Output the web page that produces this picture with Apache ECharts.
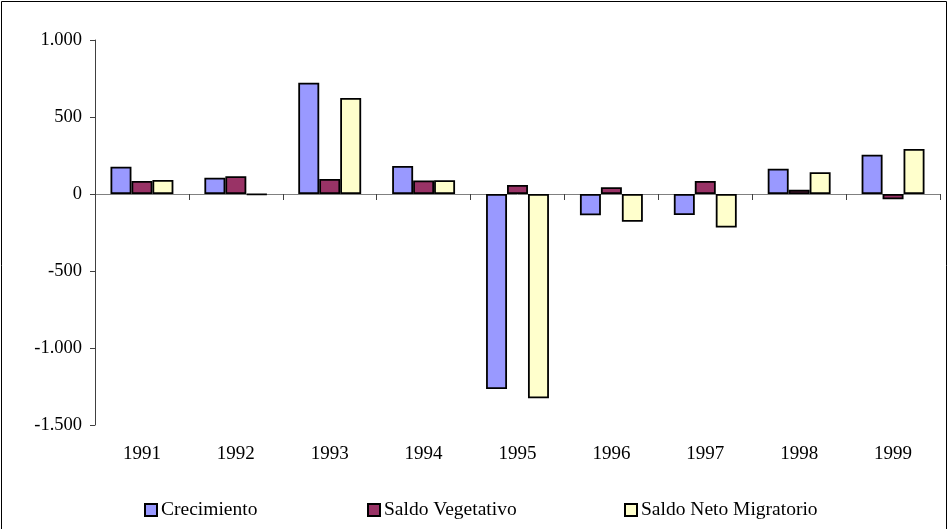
<!DOCTYPE html>
<html>
<head>
<meta charset="utf-8">
<script src="https://cdn.jsdelivr.net/npm/echarts@6/dist/echarts.min.js"></script>
<style>
  html, body { margin: 0; padding: 0; background: #fff; }
  #chart { width: 949px; height: 529px; }
</style>
</head>
<body>
<div id="chart"></div>
<script>
// datos
const years = ['1991', '1992', '1993', '1994', '1995', '1996', '1997', '1998', '1999'];
const crecimiento = [177, 106, 722, 182, -1267, -138, -137, 164, 255];
const saldoVegetativo = [84, 115, 98, 88, 58, 44, 84, 27, -34];
const saldoMigratorio = [91, -5, 623, 90, -1327, -180, -218, 141, 293];
const yTicks = [-1500, -1000, -500, 0, 500, 1000];

const FONT = 'Liberation Serif';

// separador de miles con punto
function fmt(v) {
    const s = String(Math.abs(v)).replace(/\B(?=(\d{3})+(?!\d))/g, '.');
    return (v < 0 ? '-' : '') + s;
}

const chart = echarts.init(document.getElementById('chart'));

const barBorder = { borderColor: '#000', borderWidth: 1.8 };

const option = {
    backgroundColor: '#fff',
    animation: false,
    textStyle: { fontFamily: FONT, color: '#000' },
    grid: { left: 95, right: 9, top: 40, bottom: 104 },
    graphic: [{
        type: 'rect',
        shape: { x: 1.5, y: 1.5, width: 945, height: 530 },
        style: { fill: 'none', stroke: '#000', lineWidth: 1 },
        silent: true
    }],
    legend: [
        { data: ['Crecimiento'], left: 139 },
        { data: ['Saldo Vegetativo'], left: 362 },
        { data: ['Saldo Neto Migratorio'], left: 619 }
    ].map(l => Object.assign({
        top: 495,
        icon: 'rect',
        itemWidth: 12,
        itemHeight: 12,
        itemGap: 0,
        textStyle: { fontFamily: FONT, fontSize: 19.5, color: '#000', padding: [0, 0, 0, -1] }
    }, l)),
    xAxis: [
        {
            type: 'category',
            data: years,
            axisLine: { onZero: true, lineStyle: { color: '#808080', width: 1 } },
            axisTick: { show: true, length: 6, inside: false, lineStyle: { color: '#404040' } },
            axisLabel: { show: false },
            splitLine: { show: false }
        },
        {
            type: 'category',
            data: years,
            position: 'bottom',
            axisLine: { show: false },
            axisTick: { show: false },
            axisLabel: { margin: 20, fontFamily: FONT, fontSize: 19, color: '#000' }
        }
    ],
    yAxis: {
        type: 'value',
        min: yTicks[0],
        max: yTicks[yTicks.length - 1],
        interval: 500,
        axisLine: { show: true, lineStyle: { color: '#404040', width: 1 } },
        axisTick: { show: true, length: 5, lineStyle: { color: '#404040' } },
        axisLabel: { margin: 13, fontFamily: FONT, fontSize: 18.5, color: '#000', formatter: fmt },
        splitLine: { show: false }
    },
    series: [
        {
            name: 'Crecimiento', type: 'bar', data: crecimiento,
            barGap: '0%', barCategoryGap: '33%',
            itemStyle: Object.assign({ color: '#9999ff' }, barBorder)
        },
        {
            name: 'Saldo Vegetativo', type: 'bar', data: saldoVegetativo,
            barGap: '0%', barCategoryGap: '33%',
            itemStyle: Object.assign({ color: '#993366' }, barBorder)
        },
        {
            name: 'Saldo Neto Migratorio', type: 'bar', data: saldoMigratorio,
            barGap: '0%', barCategoryGap: '33%',
            itemStyle: Object.assign({ color: '#ffffcc' }, barBorder)
        }
    ]
};

chart.setOption(option);
</script>
</body>
</html>
